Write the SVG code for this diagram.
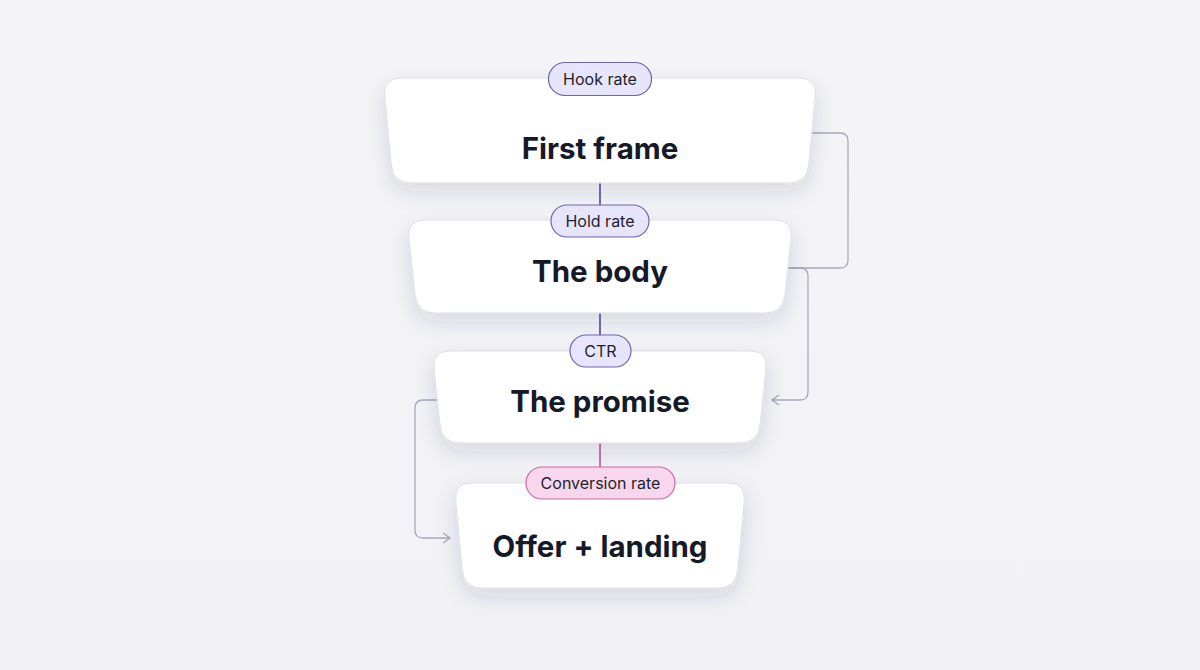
<svg xmlns="http://www.w3.org/2000/svg" width="1200" height="670" viewBox="0 0 1200 670">
  <defs>
    <linearGradient id="bg" x1="0" y1="0" x2="0" y2="1">
      <stop offset="0" stop-color="#f4f4f8"/>
      <stop offset="1" stop-color="#f1f1f6"/>
    </linearGradient>
    <filter id="shadow" x="-20%" y="-30%" width="140%" height="170%">
      <feDropShadow dx="0" dy="8" stdDeviation="10" flood-color="#2a2a55" flood-opacity="0.14"/>
    </filter>
    <marker id="arrow" viewBox="0 0 12 12" refX="10" refY="6" markerWidth="12" markerHeight="12" markerUnits="userSpaceOnUse" orient="auto">
      <path d="M3,1 L10,6 L3,11" fill="none" stroke="#a8a8bc" stroke-width="1.4"/>
    </marker>
    <style>
      .node { fill: #ffffff; stroke: #dedee6; stroke-width: 1; filter: url(#shadow); }
      .title { font-family: Inter, "Liberation Sans", sans-serif; font-weight: 700; font-size: 29.5px; fill: #161a28; text-anchor: middle; }
      .pill { fill: #e7e5fb; stroke: #6d65ad; stroke-width: 1.2; }
      .pill-pink { fill: #f8d7ee; stroke: #c76aa8; stroke-width: 1.2; }
      .pilltext { font-family: Inter, "Liberation Sans", sans-serif; font-weight: 400; font-size: 16px; fill: #1d1f2c; text-anchor: middle; }
      .loop { fill: none; stroke: #a8a8bc; stroke-width: 1.3; }
      .stem { stroke: #4d4a9c; stroke-width: 1.6; }
      .stem-pink { stroke: #c2509a; stroke-width: 1.6; }
    </style>
  </defs>
  <rect width="1200" height="670" fill="url(#bg)"/>

  <g id="connectors">
    <path class="loop" d="M 808,133 H 840 Q 848,133 848,141 V 260 Q 848,268 840,268 H 790"/>
    <path class="loop" d="M 788,268 H 800 Q 808,268 808,276 V 392 Q 808,400 800,400 H 772" marker-end="url(#arrow)"/>
    <path class="loop" d="M 437,400 H 423 Q 415,400 415,408 V 530 Q 415,538 423,538 H 450" marker-end="url(#arrow)"/>
    <line class="stem" x1="600" y1="183" x2="600" y2="206"/>
    <line class="stem" x1="600" y1="313" x2="600" y2="336"/>
    <line class="stem-pink" x1="600" y1="443" x2="600" y2="468"/>
  </g>

  <g id="node-first-frame">
    <path class="node" d="M 401,78 H 799 Q 817,78 815.3,96 L 808.7,165 Q 807,183 789,183 H 411 Q 393,183 391.3,165 L 384.7,96 Q 383,78 401,78 Z"/>
    <text class="title" x="600" y="159">First frame</text>
    <rect class="pill" x="548.5" y="62.5" width="103" height="33" rx="16.5"/>
    <text class="pilltext" x="600" y="84.5">Hook rate</text>
  </g>

  <g id="node-the-body">
    <path class="node" d="M 425,220 H 775 Q 793,220 791.1,238 L 784.9,295 Q 783,313 765,313 H 435 Q 417,313 415.1,295 L 408.9,238 Q 407,220 425,220 Z"/>
    <text class="title" x="600" y="282">The body</text>
    <rect class="pill" x="551" y="205" width="98" height="32" rx="16"/>
    <text class="pilltext" x="600" y="226.5">Hold rate</text>
  </g>

  <g id="node-the-promise">
    <path class="node" d="M 450,351 H 750 Q 768,351 766,369 L 760,425 Q 758,443 740,443 H 460 Q 442,443 440,425 L 434,369 Q 432,351 450,351 Z"/>
    <text class="title" x="600" y="412">The promise</text>
    <rect class="pill" x="570" y="335" width="61" height="32" rx="16"/>
    <text class="pilltext" x="600.5" y="356.5">CTR</text>
  </g>

  <g id="node-offer-landing">
    <path class="node" d="M 472,483 H 728 Q 746,483 744.3,501 L 737.7,570 Q 736,588 718,588 H 482 Q 464,588 462.3,570 L 455.7,501 Q 454,483 472,483 Z"/>
    <text class="title" x="600" y="557">Offer + landing</text>
    <rect class="pill-pink" x="526" y="467" width="149" height="32" rx="16"/>
    <text class="pilltext" x="600.5" y="488.5">Conversion rate</text>
  </g>
</svg>
